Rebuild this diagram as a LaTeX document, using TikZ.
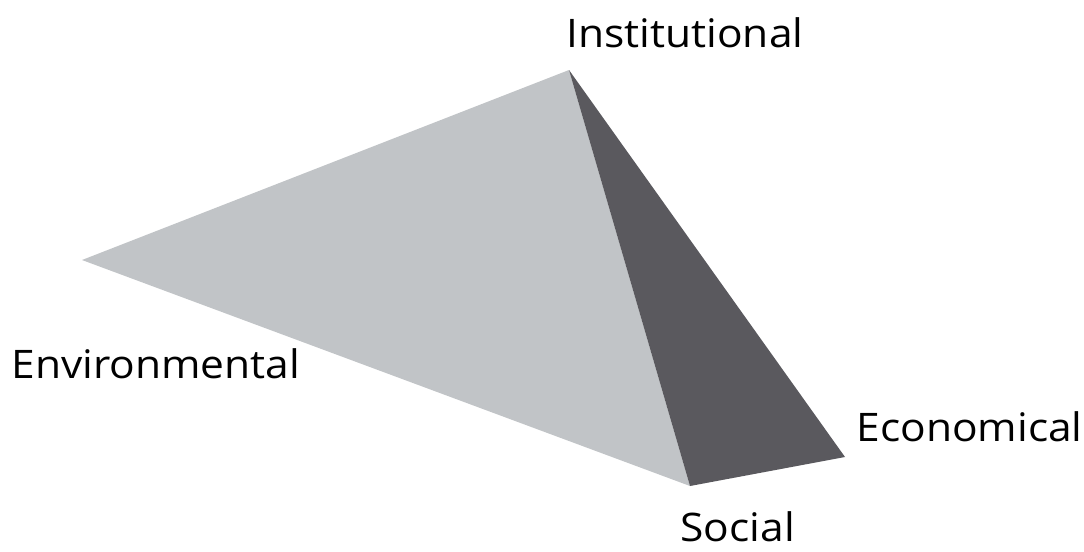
\documentclass[tikz,border=0pt]{standalone}
\usepackage{fontspec}
\setmainfont{Open Sans}[FakeStretch=1.08]
\tikzset{every picture/.style={line width=0.75pt}}
\definecolor{facelight}{RGB}{193,196,199}
\definecolor{facedark}{RGB}{90,89,94}

\begin{document}
\begin{tikzpicture}[x=0.75pt,y=0.75pt,yscale=-1,xscale=1]
\path[use as bounding box] (0,0) rectangle (1084,551);
\tikzset{label text/.style={inner sep=0pt, font=\fontsize{29.5}{34}\selectfont}}

%Corners of the pyramid
\coordinate (inst) at (569,70);
\coordinate (env) at (82,260);
\coordinate (soc) at (690,486);
\coordinate (eco) at (845,457);

%Shape [id:light face] 
\fill [facelight] (inst) -- (env) -- (soc) -- cycle ;
%Shape [id:dark face] 
\fill [facedark] (inst) -- (soc) -- (eco) -- cycle ;

% Text Node
\draw (566,47) node (instlabel) [anchor=base west][label text] {Institutional};
% Text Node
\draw (11,378) node (envlabel) [anchor=base west][label text] {Environmental};
% Text Node
\draw (856,441) node (ecolabel) [anchor=base west][label text] {Economical};
% Text Node
\draw (680,541) node (soclabel) [anchor=base west][label text, text depth=0pt] {Social};

\end{tikzpicture}
\end{document}
